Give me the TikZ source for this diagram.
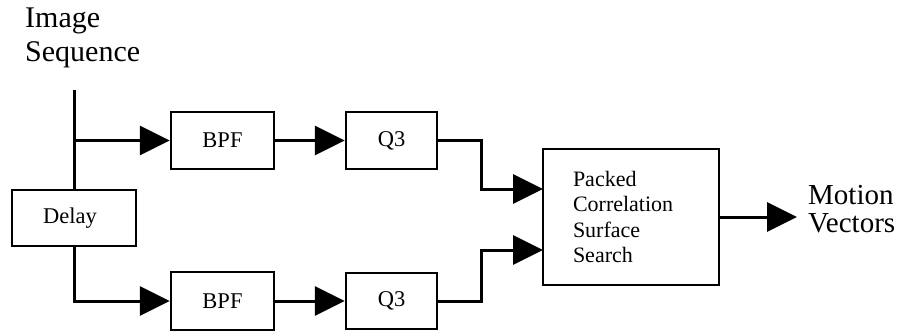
\documentclass[tikz,border=0pt]{standalone}
\usepackage{fontspec}
\setmainfont{Liberation Serif}
\usetikzlibrary{arrows.meta}
\begin{document}
\begin{tikzpicture}[x=1pt,y=-1pt,
  blk/.style={draw, line width=2.5pt, inner sep=0pt, font=\fontsize{22.5}{25}\selectfont},
  conn/.style={line width=3pt},
  arr/.style={line width=3pt, -{Triangle[length=30pt,width=29pt]}},
  lbl/.style={inner sep=0pt, align=left}]
\useasboundingbox (0,0) rectangle (904,335);
\node[blk, minimum width=103pt, minimum height=57pt] (bpf1) at (222.5,140.5) {BPF};
\node[blk, minimum width=103pt, minimum height=58pt] (bpf2) at (222.5,301) {BPF};
\node[blk, minimum width=91pt, minimum height=57pt] (q1) at (391.5,140.5) {Q3};
\node[blk, minimum width=91pt, minimum height=56pt] (q2) at (391.5,301) {Q3};
\node[blk, minimum width=124pt, minimum height=56pt] (delay) at (74,218) {Delay\hspace*{8pt}};
\node[blk, minimum width=176pt, minimum height=136pt, align=left, text width=116pt, font=\fontsize{22}{25.5}\selectfont] (pack) at (631,217) {Packed\\Correlation\\Surface\\Search};
\node[lbl, anchor=north west, font=\fontsize{30}{34}\selectfont] (img) at (25,8) {Image\\Sequence};
\node[lbl, anchor=west, font=\fontsize{29}{28}\selectfont] (mv) at (808,209) {Motion\\Vectors};
\coordinate (in) at (74,90);
\coordinate (split) at (74,140.5);
\coordinate (p1) at (543,189);
\coordinate (p2) at (543,250);
\coordinate (out) at (797,217);
\draw[conn] (in) -- (delay.north);
\draw[arr] (split) -- (bpf1.west);
\draw[arr] (delay.south) |- (bpf2.west);
\draw[arr] (bpf1.east) -- (q1.west);
\draw[arr] (bpf2.east) -- (q2.west);
\draw[arr] (q1.east) -- ++(43,0) |- (p1);
\draw[arr] (q2.east) -- ++(43,0) |- (p2);
\draw[arr] (pack.east) -- (out);
\end{tikzpicture}
\end{document}
